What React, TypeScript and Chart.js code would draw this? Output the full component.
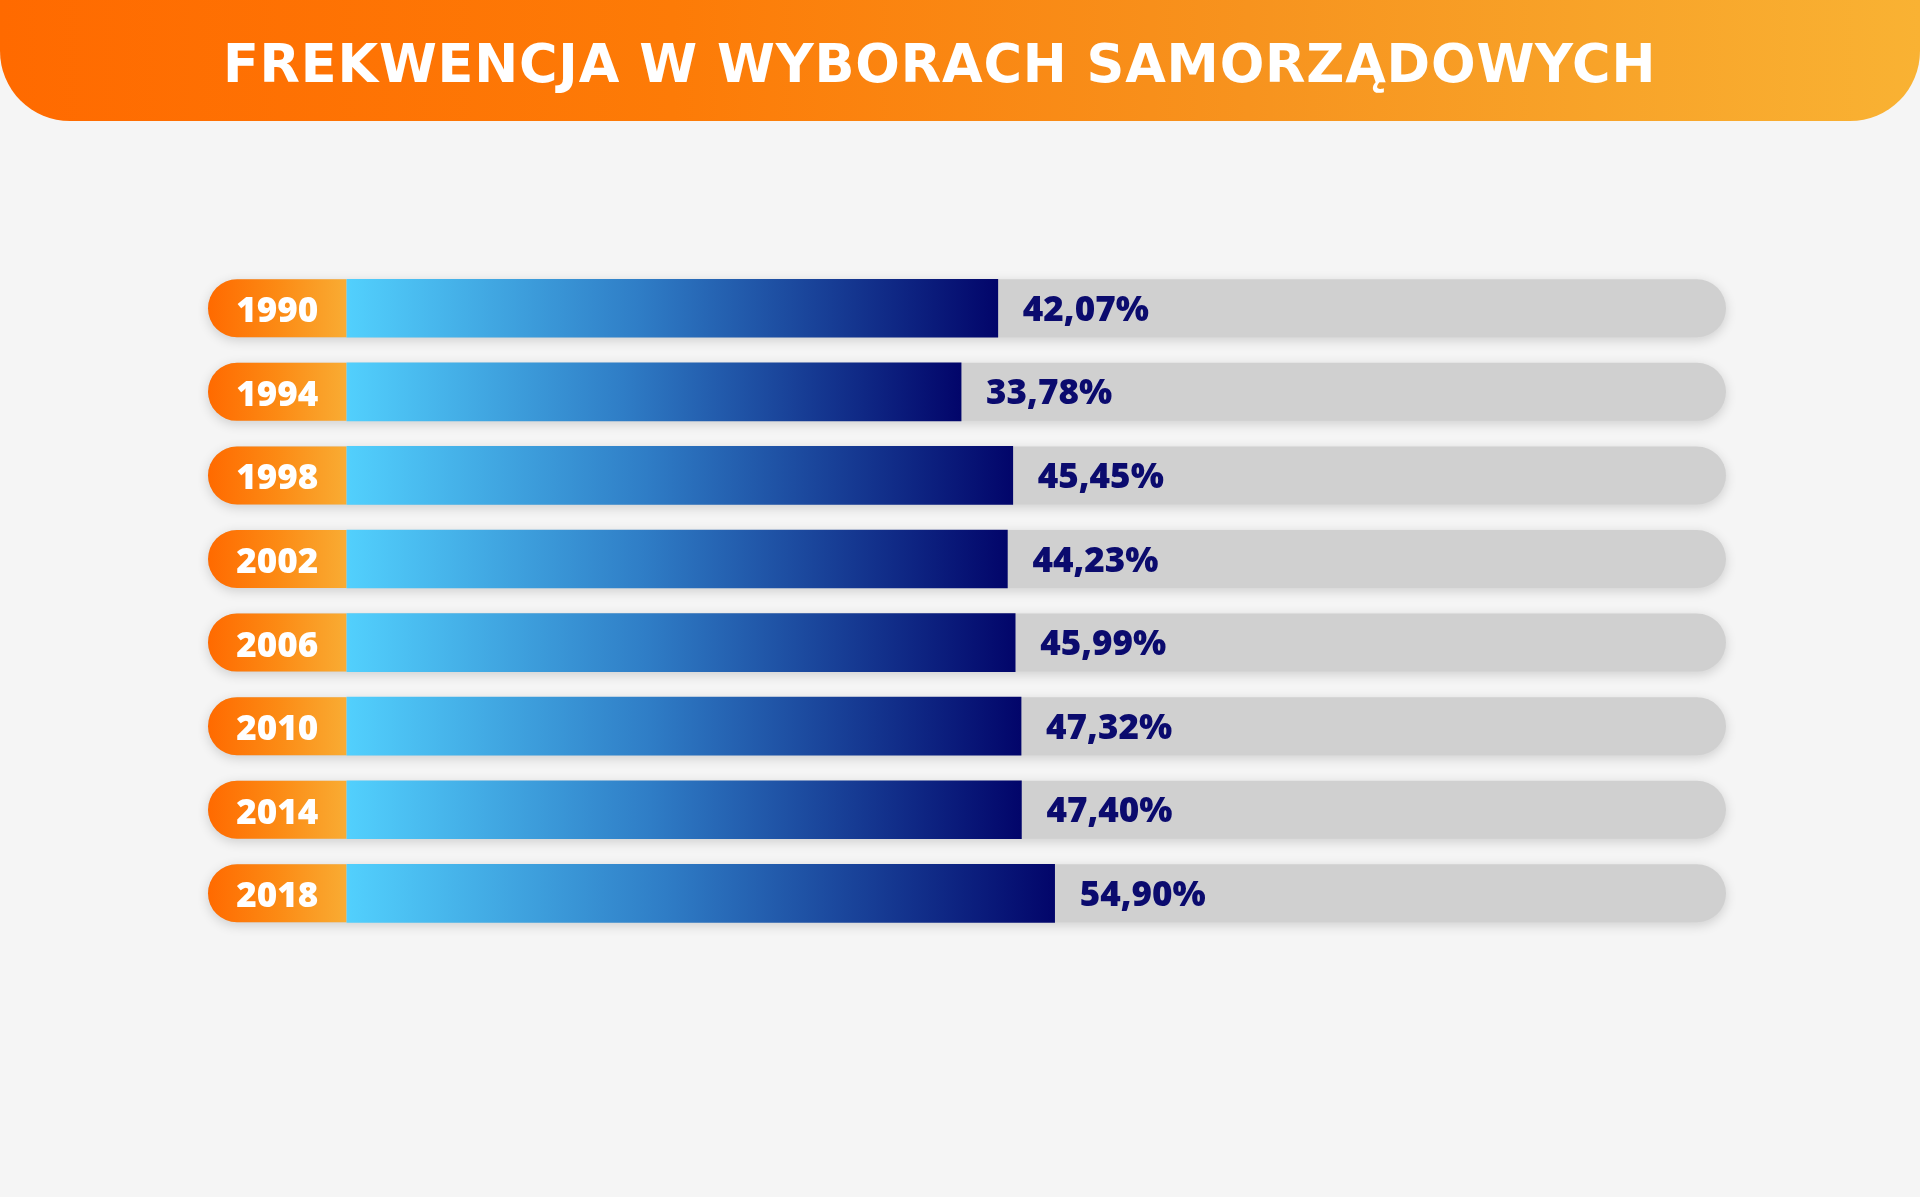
import React, { useEffect, useRef } from "react";
import { Chart, registerables } from "chart.js";

Chart.register(...registerables);

// ---- data ----
const TITLE = "FREKWENCJA W WYBORACH SAMORZĄDOWYCH";
const YEARS = ["1990", "1994", "1998", "2002", "2006", "2010", "2014", "2018"];
const TURNOUT = [42.07, 33.78, 45.45, 44.23, 45.99, 47.32, 47.4, 54.9];
const VALUE_LABELS = TURNOUT.map((v) => v.toFixed(2).replace(".", ",") + "%");
// value-axis range as drawn in the infographic (bars start at the axis minimum)
const X_MIN = -105;
const X_MAX = 206.5;

// ---- layout / style ----
const PAGE_W = 1920;
const PAGE_H = 1197;
const AXIS_W = 138.5;
const BAR_T = 58;
const NUM_FONT = "'Open Sans', 'Liberation Sans', sans-serif";
const NUM_SIZE = 35;
const NUM_WEIGHT = "800";

export default function App() {
  const canvasRef = useRef<HTMLCanvasElement | null>(null);

  useEffect(() => {
    const canvas = canvasRef.current;
    if (!canvas) return;

    // measure widest year label so the tick text sits centred in the pill
    const m = document.createElement("canvas").getContext("2d")!;
    m.font = `${NUM_WEIGHT} ${NUM_SIZE}px ${NUM_FONT}`;
    const widest = Math.max(...YEARS.map((y) => m.measureText(y).width));
    const tickPad = Math.max(0, (AXIS_W - widest) / 2);

    const trackPlugin = {
      id: "tracks",
      beforeDraw(chart: any) {
        const { ctx, chartArea, scales } = chart;
        const ys = scales.y;
        const left = chartArea.left - AXIS_W;
        const right = chartArea.right;
        const h = BAR_T;
        YEARS.forEach((_, i) => {
          const cy = ys.getPixelForValue(i);
          const top = cy - h / 2;
          ctx.save();
          ctx.shadowColor = "rgba(0,0,0,0.16)";
          ctx.shadowBlur = 12;
          ctx.shadowOffsetY = 3;
          ctx.fillStyle = "#d0d0d0";
          ctx.beginPath();
          ctx.roundRect(left, top, right - left, h, h / 2);
          ctx.fill();
          ctx.restore();

          ctx.save();
          const g = ctx.createLinearGradient(left, 0, chartArea.left, 0);
          g.addColorStop(0, "#ff6a00");
          g.addColorStop(0.5, "#fc8a14");
          g.addColorStop(1, "#f9ac33");
          ctx.fillStyle = g;
          ctx.beginPath();
          ctx.roundRect(left, top, chartArea.left - left, h, [h / 2, 0, 0, h / 2]);
          ctx.fill();
          ctx.restore();
        });
      },
      afterDatasetsDraw(chart: any) {
        const { ctx } = chart;
        const meta = chart.getDatasetMeta(0);
        ctx.save();
        ctx.font = `${NUM_WEIGHT} ${NUM_SIZE}px ${NUM_FONT}`;
        ctx.fillStyle = "#0b0b6e";
        ctx.textAlign = "left";
        ctx.textBaseline = "alphabetic";
        const capH = NUM_SIZE * 0.714;
        meta.data.forEach((bar: any, i: number) => {
          ctx.fillText(VALUE_LABELS[i], bar.x + 25, bar.y + capH / 2);
        });
        ctx.restore();
      },
    };

    const chart = new Chart(canvas, {
      type: "bar",
      data: {
        labels: YEARS,
        datasets: [
          {
            data: TURNOUT,
            base: X_MIN,
            barThickness: BAR_T,
            borderWidth: 0,
            borderRadius: 0,
            backgroundColor: (c: any) => {
              const chart = c.chart;
              if (!chart.chartArea || c.type !== "data") return "#1a4fa0";
              const xs = chart.scales.x;
              const x0 = xs.getPixelForValue(X_MIN);
              const x1 = xs.getPixelForValue(c.raw);
              const g = chart.ctx.createLinearGradient(x0, 0, x1, 0);
              g.addColorStop(0, "#52d0fd");
              g.addColorStop(0.45, "#2f7dc6");
              g.addColorStop(1, "#02056a");
              return g;
            },
          } as any,
        ],
      },
      options: {
        indexAxis: "y",
        animation: false,
        responsive: true,
        maintainAspectRatio: false,
        layout: { padding: { left: 20, right: 22, top: 20.5, bottom: 20.9 } },
        plugins: {
          legend: { display: false },
          tooltip: { enabled: false },
          title: { display: false },
        },
        scales: {
          x: {
            type: "linear",
            min: X_MIN,
            max: X_MAX,
            display: false,
          },
          y: {
            type: "category",
            grid: { display: false, drawTicks: false },
            border: { display: false },
            afterFit: (scale: any) => {
              scale.width = AXIS_W;
              scale.paddingTop = 0;
              scale.paddingBottom = 0;
            },
            ticks: {
              autoSkip: false,
              crossAlign: "center",
              padding: tickPad,
              labelOffset: 4,
              color: "#ffffff",
              font: { family: NUM_FONT, size: NUM_SIZE, weight: NUM_WEIGHT as any },
            },
          },
        },
      } as any,
      plugins: [trackPlugin],
    });

    return () => chart.destroy();
  }, []);

  return (
    <div
      style={{
        position: "fixed",
        left: 0,
        top: 0,
        width: PAGE_W,
        height: PAGE_H,
        background: "#f5f5f5",
        overflow: "hidden",
      }}
    >
      <div
        style={{
          position: "absolute",
          left: 0,
          top: 0,
          width: PAGE_W,
          height: 121,
          background:
            "linear-gradient(90deg, #ff6a00 0%, #fd7b07 35%, #f7931e 65%, #f9b233 100%)",
          borderRadius: "0 0 70px 70px",
          display: "flex",
          alignItems: "center",
          justifyContent: "center",
          boxSizing: "border-box",
          paddingTop: 5,
          paddingRight: 41,
          color: "#ffffff",
          fontFamily: "'DejaVu Sans', sans-serif",
          fontWeight: 700,
          fontSize: 52.5,
          letterSpacing: "0.8px",
          whiteSpace: "nowrap",
        }}
      >
        {TITLE}
      </div>
      <div
        style={{
          position: "absolute",
          left: 188,
          top: 246,
          width: 1560,
          height: 710,
        }}
      >
        <canvas ref={canvasRef} />
      </div>
    </div>
  );
}
